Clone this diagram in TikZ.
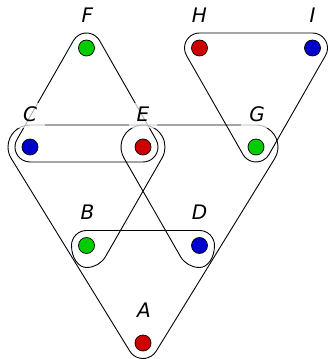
\documentclass[tikz,border=0pt]{standalone}
\usepackage{fontspec}
\setsansfont{DejaVu Sans}
\usetikzlibrary{calc}
\definecolor{vgreen}{RGB}{0,204,0}
\definecolor{vred}{RGB}{204,0,0}
\definecolor{vblue}{RGB}{0,0,204}
\tikzset{
  hedge/.style={draw=black, line width=0.9pt, line join=round},
  vert/.style={circle, draw=black, line width=0.7pt, minimum size=16pt, inner sep=0pt},
  lab/.style={fill=white, fill opacity=0.7, text opacity=1, inner xsep=8pt, inner ysep=3pt,
    text height=15pt, text depth=4pt, font=\fontsize{20}{24}\selectfont\sffamily\itshape},
}
\begin{document}
\begin{tikzpicture}[x=1pt,y=1pt]
\fill[white] (0,0) rectangle (328,359);
\useasboundingbox (0,0) rectangle (328,359);
\coordinate (F) at (86.5,311);
\coordinate (H) at (199.5,311);
\coordinate (I) at (312.5,311);
\coordinate (C) at (30,212);
\coordinate (E) at (143,212);
\coordinate (G) at (256,212);
\coordinate (B) at (86.5,113.5);
\coordinate (D) at (199.5,113.5);
\coordinate (A) at (143,16);
% hyperedge F C E
\draw[hedge] ($(F)+(30:15)$) arc[start angle=30,end angle=150,radius=15]
  -- ($(C)+(150:15)$) arc[start angle=150,end angle=270,radius=15]
  -- ($(E)+(270:15)$) arc[start angle=270,end angle=390,radius=15] -- cycle;
% hyperedge H I G
\draw[hedge] ($(G)+(210:15)$) arc[start angle=210,end angle=330,radius=15]
  -- ($(I)+(330:15)$) arc[start angle=-30,end angle=90,radius=15]
  -- ($(H)+(90:15)$) arc[start angle=90,end angle=210,radius=15] -- cycle;
% hyperedge C G A
\draw[hedge] ($(A)+(211.65:15.5)$) arc[start angle=211.65,end angle=328.35,radius=15.5]
  -- ($(G)+(-31.65:22)$) arc[start angle=-31.65,end angle=90,radius=22]
  -- ($(C)+(90:22)$) arc[start angle=90,end angle=211.65,radius=22] -- cycle;
% hyperedge B D E
\draw[hedge] ($(B)+(90:15)$) -- ($(D)+(90:15)$)
  arc[start angle=90,end angle=0,radius=15]
  arc[start angle=0,end angle=-90,x radius=15,y radius=22]
  arc[start angle=-90,end angle=-150,radius=22]
  -- ($(E)+(210:22)$) arc[start angle=210,end angle=-30,radius=22]
  -- ($(B)+(-30:22)$) arc[start angle=-30,end angle=-90,radius=22]
  arc[start angle=-90,end angle=-180,x radius=15,y radius=22]
  arc[start angle=180,end angle=90,radius=15] -- cycle;
% vertices
\node[vert, fill=vgreen] (vF) at (F) {};
\node[vert, fill=vred] (vH) at (H) {};
\node[vert, fill=vblue] (vI) at (I) {};
\node[vert, fill=vblue] (vC) at (C) {};
\node[vert, fill=vred] (vE) at (E) {};
\node[vert, fill=vgreen] (vG) at (G) {};
\node[vert, fill=vgreen] (vB) at (B) {};
\node[vert, fill=vblue] (vD) at (D) {};
\node[vert, fill=vred] (vA) at (A) {};
% labels
\node[lab] (lF) at ($(F)+(1,31)$) {F};
\node[lab] (lH) at ($(H)+(0,31)$) {H};
\node[lab] (lI) at ($(I)+(0,31)$) {I};
\node[lab] (lC) at ($(C)+(0,31)$) {C};
\node[lab] (lE) at ($(E)+(0,31)$) {E};
\node[lab] (lG) at ($(G)+(1,31)$) {G};
\node[lab] (lB) at ($(B)+(1,31)$) {B};
\node[lab] (lD) at ($(D)+(0,31)$) {D};
\node[lab] (lA) at ($(A)+(1,31)$) {A};
\end{tikzpicture}
\end{document}
